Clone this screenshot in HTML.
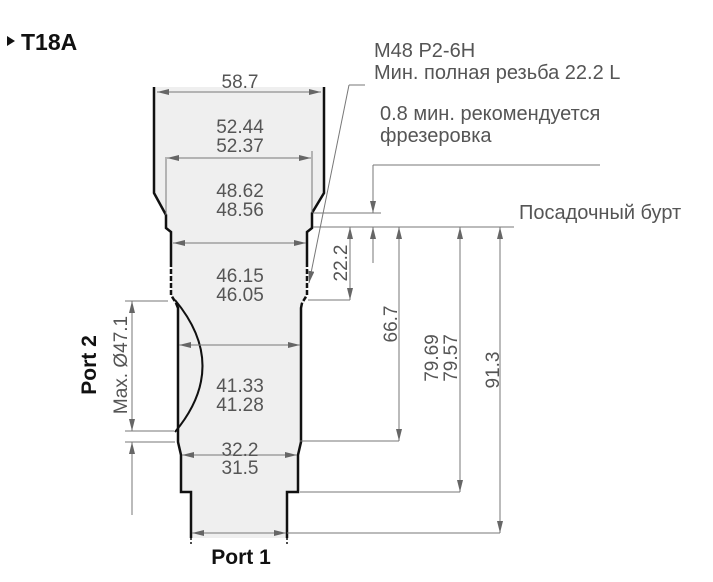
<!DOCTYPE html>
<html><head><meta charset="utf-8"><style>
html,body{margin:0;padding:0;background:#fff;width:713px;height:582px;overflow:hidden}
svg{display:block}
text{font-family:"Liberation Sans",sans-serif}
</style></head><body>
<svg width="713" height="582" viewBox="0 0 713 582" xmlns="http://www.w3.org/2000/svg">
<defs>
<marker id="a" viewBox="0 0 12 6" refX="12" refY="3" markerWidth="12" markerHeight="6" orient="auto-start-reverse" markerUnits="userSpaceOnUse"><path d="M0,0 L12,3 L0,6 z" fill="#666"/></marker>
</defs>
<path d="M7,36 L15,41 L7,46 z" fill="#111"/>
<text x="21" y="50" font-size="23" font-weight="bold" fill="#111">T18A</text>
<path d="M154,87 L154,193 L166,215 L166,228 L171,232 L171,298 L178,308 L178,442 L181,455 L181,492 L191,492 L191,538 L287,538 L287,492 L298,492 L298,455 L301,442 L301,308 L307,298 L307,232 L312,228 L312,213 L324,193 L324,87 z" fill="#efefef"/>
<g fill="none" stroke="#111" stroke-width="2.5">
<path d="M154,87 L154,193 L166,215 L166,228 L171,232 L171,262"/>
<path d="M171,262 L171,295 L176,303" stroke-dasharray="5,2"/>
<path d="M176,303 L178,308 L178,442 L181,455 L181,492 L191,492 L191,538"/>
<path d="M324,87 L324,193 L312,213 L312,228 L307,232 L307,262"/>
<path d="M307,262 L307,295 L302,303" stroke-dasharray="5,2"/>
<path d="M302,303 L301,308 L301,442 L298,455 L298,492 L287,492 L287,538"/>
<path d="M175,300 Q230,366 175,432" stroke-width="2"/>
</g>
<g stroke="#111" stroke-width="1.5" stroke-dasharray="2,2"><line x1="191" y1="538" x2="191" y2="545"/><line x1="287" y1="538" x2="287" y2="545"/></g>
<g stroke="#777" stroke-width="1" fill="none">
<line x1="166" y1="157" x2="166" y2="215"/><line x1="312" y1="151" x2="312" y2="213"/>
<line x1="157" y1="92" x2="321" y2="92" marker-start="url(#a)" marker-end="url(#a)"/>
<line x1="167" y1="158" x2="311" y2="158" marker-start="url(#a)" marker-end="url(#a)"/>
<line x1="173" y1="243" x2="306" y2="243" marker-start="url(#a)" marker-end="url(#a)"/>
<line x1="179" y1="345" x2="300" y2="345" marker-start="url(#a)" marker-end="url(#a)"/>
<line x1="182" y1="455" x2="297" y2="455" marker-start="url(#a)" marker-end="url(#a)"/>
<line x1="192" y1="533" x2="286" y2="533" marker-start="url(#a)" marker-end="url(#a)"/>
<line x1="125" y1="301" x2="168" y2="301"/><line x1="125" y1="431" x2="174" y2="431"/><line x1="125" y1="442" x2="175" y2="442"/>
<line x1="132" y1="301" x2="132" y2="431" marker-start="url(#a)" marker-end="url(#a)"/>
<line x1="132" y1="515" x2="132" y2="442" marker-end="url(#a)"/>
<line x1="349" y1="85" x2="365" y2="85"/>
<line x1="349" y1="85" x2="309" y2="283" marker-end="url(#a)"/>
<line x1="373" y1="165" x2="600" y2="165"/>
<line x1="373" y1="165" x2="373" y2="213" marker-end="url(#a)"/>
<line x1="313" y1="213" x2="381" y2="213"/>
<line x1="313" y1="227" x2="514" y2="227"/>
<line x1="373" y1="263" x2="373" y2="227" marker-end="url(#a)"/>
<line x1="350" y1="227" x2="350" y2="300" marker-start="url(#a)" marker-end="url(#a)"/>
<line x1="308" y1="300" x2="350" y2="300"/>
<line x1="399" y1="227" x2="399" y2="441" marker-start="url(#a)" marker-end="url(#a)"/>
<line x1="300" y1="441" x2="399" y2="441"/>
<line x1="460" y1="227" x2="460" y2="492" marker-start="url(#a)" marker-end="url(#a)"/>
<line x1="300" y1="492" x2="460" y2="492"/>
<line x1="500" y1="227" x2="500" y2="533" marker-start="url(#a)" marker-end="url(#a)"/>
<line x1="287" y1="533" x2="500" y2="533"/>
</g>
<g fill="#555" font-size="19" text-anchor="middle">
<text x="240" y="88">58.7</text>
<text x="240" y="133">52.44</text><text x="240" y="152">52.37</text>
<text x="240" y="197">48.62</text><text x="240" y="216">48.56</text>
<text x="240" y="282">46.15</text><text x="240" y="301">46.05</text>
<text x="240" y="392">41.33</text><text x="240" y="411">41.28</text>
<text x="240" y="456">32.2</text><text x="240" y="474">31.5</text>
<text transform="translate(347,263) rotate(-90)">22.2</text>
<text transform="translate(397,324) rotate(-90)">66.7</text>
<text transform="translate(438,358) rotate(-90)">79.69</text>
<text transform="translate(457,358) rotate(-90)">79.57</text>
<text transform="translate(499,370) rotate(-90)">91.3</text>
<text transform="translate(127,365) rotate(-90)">Max. Ø47.1</text>
</g>
<g fill="#555" font-size="20">
<text x="374" y="57">M48  P2-6H</text>
<text x="374" y="79">Мин. полная резьба 22.2 L</text>
<text x="380" y="120">0.8 мин. рекомендуется</text>
<text x="380" y="142">фрезеровка</text>
<text x="519" y="219">Посадочный бурт</text>
</g>
<g fill="#111" font-size="21" font-weight="bold" text-anchor="middle">
<text x="241" y="564">Port 1</text>
<text transform="translate(96,365) rotate(-90)">Port 2</text>
</g>
</svg>
</body></html>
